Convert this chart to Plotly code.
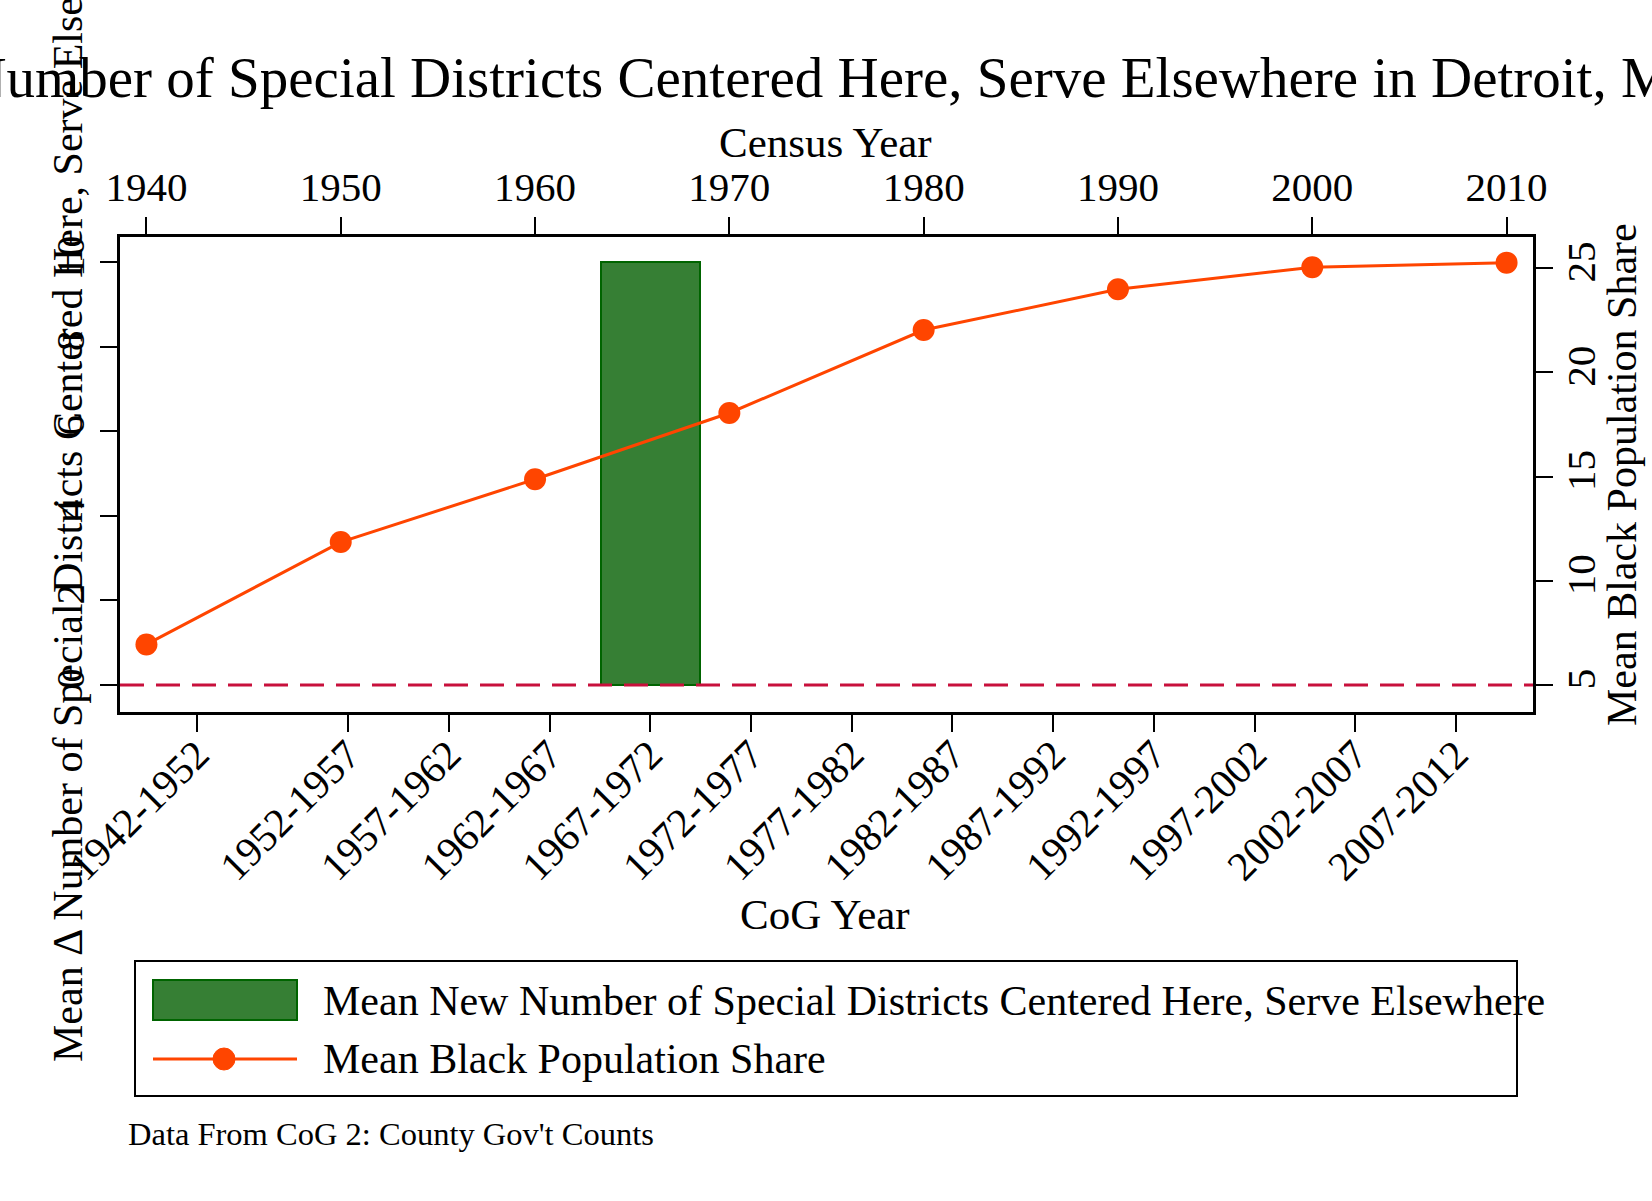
import plotly.graph_objects as go

# ---- data ----
cog_labels = ["1942-1952", "1952-1957", "1957-1962", "1962-1967", "1967-1972",
              "1972-1977", "1977-1982", "1982-1987", "1987-1992", "1992-1997",
              "1997-2002", "2002-2007", "2007-2012"]
cog_pos = [1947, 1954.5, 1959.5, 1964.5, 1969.5, 1974.5, 1979.5, 1984.5,
           1989.5, 1994.5, 1999.5, 2004.5, 2009.5]
new_districts = [None, None, None, None, 10, None, None, None, None, None, None, None, None]

census_years = [1940, 1950, 1960, 1970, 1980, 1990, 2000, 2010]
black_share = [6.95, 11.86, 14.87, 18.05, 22.03, 23.98, 25.04, 25.26]

left_ticks = [0, 2, 4, 6, 8, 10]
right_ticks = [5, 10, 15, 20, 25]

FONT = "Liberation Serif, Times New Roman, serif"
GREEN = "#367F34"
GREEN_LINE = "#006400"
ORANGE = "#FF4500"
CRIMSON = "#C8103C"

W, H = 1652, 1201
L, R, T, B = 120, 1533, 237, 712  # plot area pixels


def px(x):
    return (x - L) / (R - L)


def py(y):
    return (B - y) / (B - T)


fig = go.Figure()
fig.add_trace(go.Bar(
    x=cog_pos, y=new_districts, width=4.9,
    marker=dict(color=GREEN, line=dict(color=GREEN_LINE, width=2)),
    name="Mean New Number of Special Districts Centered Here, Serve Elsewhere",
    showlegend=False, xaxis="x", yaxis="y"))
fig.add_trace(go.Scatter(
    x=census_years, y=black_share, mode="lines+markers",
    line=dict(color=ORANGE, width=3), marker=dict(color=ORANGE, size=22),
    name="Mean Black Population Share", showlegend=False,
    xaxis="x2", yaxis="y2"))

axis_common = dict(showline=True, linewidth=3, linecolor="black", ticks="outside",
                   ticklen=17, tickwidth=2, tickcolor="black", showgrid=False,
                   zeroline=False, tickfont=dict(family=FONT, size=41, color="black"))

fig.update_layout(
    width=W, height=H, autosize=False,
    margin=dict(l=L, r=W - R, t=T, b=H - B),
    paper_bgcolor="white", plot_bgcolor="white",
    font=dict(family=FONT, color="black"),
    title=dict(text="Mean New Number of Special Districts Centered Here, Serve Elsewhere in Detroit, MI",
               x=695 / W, xanchor="center", xref="container", y=1 - 77 / H, yanchor="middle",
               font=dict(family=FONT, size=57, color="black")),
    xaxis=dict(range=[1943.18, 2013.32], tickvals=cog_pos, ticktext=cog_labels,
               tickangle=-45, ticklabelstandoff=-18, **axis_common),
    xaxis2=dict(range=[1938.64, 2011.36], tickvals=census_years, overlaying="x",
                side="top", **axis_common),
    yaxis=dict(range=[-0.64, 10.6], tickvals=left_ticks, tickangle=-90, **axis_common),
    yaxis2=dict(range=[3.71, 26.49], tickvals=right_ticks, overlaying="y", side="right",
                tickangle=-90, ticklabelstandoff=-7, **axis_common),
    bargap=0,
)

# dashed reference line at zero
fig.add_shape(type="line", xref="paper", yref="y", x0=0, x1=1, y0=0, y1=0,
              line=dict(color=CRIMSON, width=3, dash="24px,12px"), layer="above")

ann = []
# axis titles
ann.append(dict(text="Census Year", x=px(825), y=py(143), xref="paper", yref="paper",
                showarrow=False, xanchor="center", yanchor="middle",
                font=dict(family=FONT, size=43, color="black")))
ann.append(dict(text="CoG Year", x=px(825), y=py(914), xref="paper", yref="paper",
                showarrow=False, xanchor="center", yanchor="middle",
                font=dict(family=FONT, size=43, color="black")))
ann.append(dict(text="Mean \u0394 Number of Special Districts Centered Here, Serve Elsewhere",
                x=px(68), y=py(478), xref="paper", yref="paper", textangle=-90,
                showarrow=False, xanchor="center", yanchor="middle",
                font=dict(family=FONT, size=42, color="black")))
ann.append(dict(text="Mean Black Population Share", x=px(1622), y=py(474),
                xref="paper", yref="paper", textangle=-90,
                showarrow=False, xanchor="center", yanchor="middle",
                font=dict(family=FONT, size=42, color="black")))

# manual legend
fig.add_shape(type="rect", xref="paper", yref="paper", x0=px(135), x1=px(1517),
              y0=py(1096), y1=py(961), line=dict(color="black", width=2),
              fillcolor="rgba(0,0,0,0)")
fig.add_shape(type="rect", xref="paper", yref="paper", x0=px(153), x1=px(297),
              y0=py(1020), y1=py(980), line=dict(color=GREEN_LINE, width=2),
              fillcolor=GREEN)
fig.add_shape(type="line", xref="paper", yref="paper", x0=px(153), x1=px(297),
              y0=py(1059), y1=py(1059), line=dict(color=ORANGE, width=3))
fig.add_shape(type="circle", xref="paper", yref="paper", x0=px(213), x1=px(235),
              y0=py(1070), y1=py(1048), line=dict(color=ORANGE, width=1),
              fillcolor=ORANGE)
ann.append(dict(text="Mean New Number of Special Districts Centered Here, Serve Elsewhere",
                x=px(321), y=py(1001), xref="paper", yref="paper", showarrow=False,
                xanchor="left", yanchor="middle",
                font=dict(family=FONT, size=42, color="black")))
ann.append(dict(text="Mean Black Population Share",
                x=px(321), y=py(1059), xref="paper", yref="paper", showarrow=False,
                xanchor="left", yanchor="middle",
                font=dict(family=FONT, size=42, color="black")))
# note
ann.append(dict(text="Data From CoG 2: County Gov't Counts",
                x=px(126), y=py(1134), xref="paper", yref="paper", showarrow=False,
                xanchor="left", yanchor="middle",
                font=dict(family=FONT, size=32.5, color="black")))

fig.update_layout(annotations=ann)
fig.write_html("out.html")
